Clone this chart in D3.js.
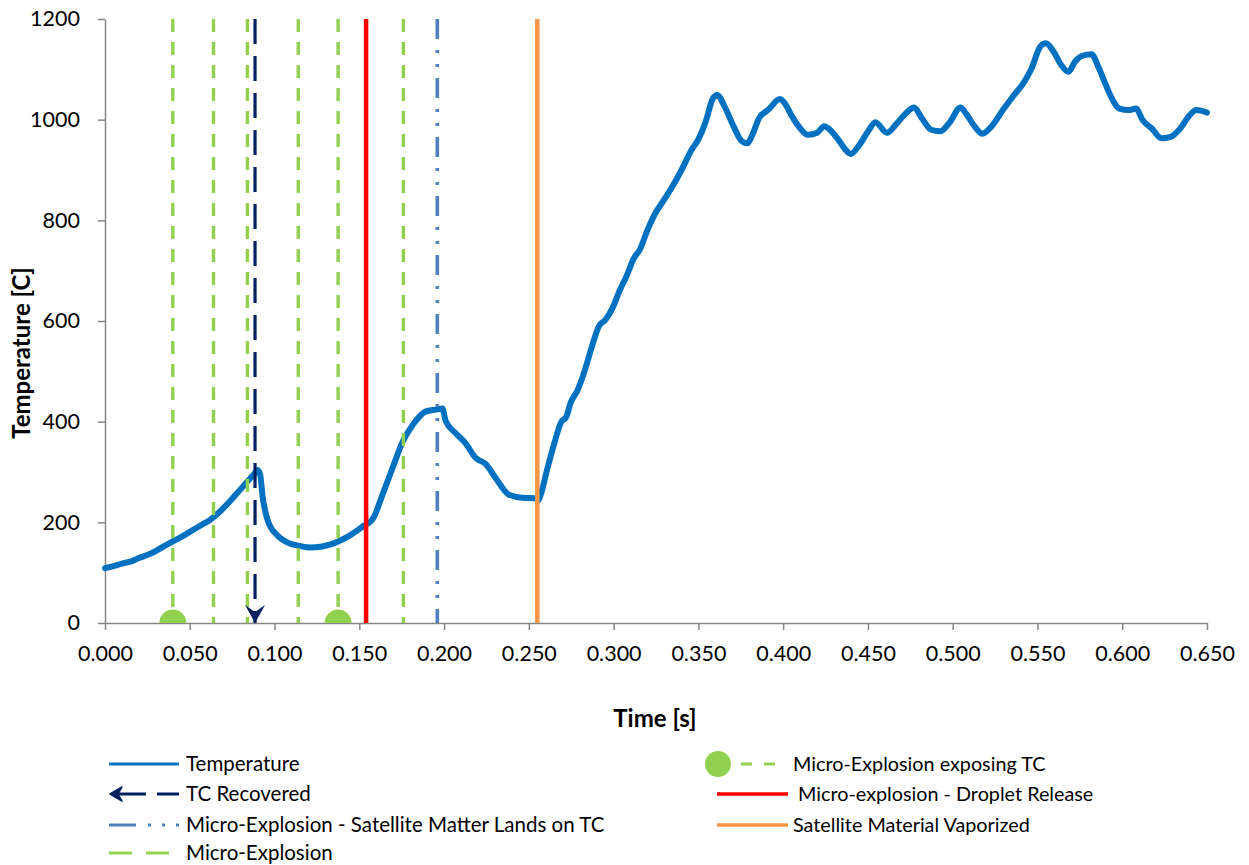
<!DOCTYPE html>
<html><head><meta charset="utf-8">
<script src="https://cdn.jsdelivr.net/npm/d3@7"></script>
<style>body{margin:0;background:#fff;} text{font-family:Lato,"Open Sans",sans-serif;fill:#000;}</style>
</head><body><svg id="c" width="1249" height="865"></svg>
<script>
// ---- data ----
const timeS = [0.000,0.005,0.010,0.015,0.020,0.027,0.033,0.040,0.045,0.050,0.056,0.062,0.068,0.074,0.079,0.084,0.088,0.090,0.0915,0.093,0.095,0.097,0.100,0.103,0.106,0.109,0.115,0.121,0.128,0.133,0.1375,0.143,0.148,0.1535,0.156,0.158,0.1637,0.1696,0.1757,0.1814,0.189,0.195,0.199,0.201,0.2069,0.2127,0.2186,0.2245,0.2304,0.2382,0.246,0.2539,0.2555,0.2569,0.261,0.2651,0.2692,0.272,0.2747,0.2788,0.2829,0.287,0.2912,0.2953,0.2994,0.3035,0.3076,0.3117,0.3158,0.320,0.3241,0.3296,0.335,0.3405,0.346,0.350,0.3542,0.3584,0.3611,0.3652,0.3707,0.3757,0.3789,0.3817,0.3858,0.3913,0.3981,0.4009,0.405,0.4091,0.4146,0.4201,0.4242,0.4269,0.4324,0.4366,0.4398,0.4448,0.4503,0.4544,0.4612,0.4667,0.4722,0.4772,0.4818,0.4873,0.4928,0.4983,0.5046,0.5079,0.512,0.5175,0.523,0.5298,0.5353,0.5422,0.5463,0.5518,0.555,0.5599,0.5641,0.5682,0.5723,0.5765,0.5819,0.586,0.5902,0.5929,0.5984,0.6039,0.608,0.6121,0.6176,0.6231,0.6286,0.6341,0.6396,0.6437,0.650];
const tempC = [109,113,118,122,129,138,149,162,171,181,193,205,222,243,262,281,296,304,295,250,215,195,180,170,163,158,153,150,152,156,162,171,182,195,200,207,255,308,361,393,420,424,426,401,377,357,328,316,288,255,249,248,243,254,308,358,400,409,438,463,501,547,589,603,626,660,689,723,744,781,811,840,869,903,940,961,995,1041,1049,1028,987,957,953,969,1003,1020,1041,1033,1008,987,970,974,987,982,961,941,932,949,978,995,974,991,1012,1024,1003,980,977,995,1024,1012,991,972,987,1020,1045,1075,1100,1146,1152,1133,1108,1095,1116,1127,1130,1104,1070,1049,1022,1019,1022,999,982,963,966,982,1008,1019,1014];
const microExplosionT = [0.064, 0.084, 0.114, 0.176];
const exposingTcT = [0.040, 0.1375];
const tcRecoveredT = [0.0885];
const dropletReleaseT = [0.154];
const satelliteLandsT = [0.196];
const vaporizedT = [0.255];
const xTicks = [0,0.05,0.1,0.15,0.2,0.25,0.3,0.35,0.4,0.45,0.5,0.55,0.6,0.65];
const yTicks = [0,200,400,600,800,1000,1200];
const legendLeft = ["Temperature","TC Recovered","Micro-Explosion - Satellite Matter Lands on TC","Micro-Explosion"];
const legendRight = ["Micro-Explosion exposing TC"," Micro-explosion - Droplet Release","Satellite Material Vaporized"];

// ---- chart ----
const svg = d3.select("#c");
const x = d3.scaleLinear().domain([0,0.65]).range([105,1207]);
const y = d3.scaleLinear().domain([0,1200]).range([623,19]);
const AX = "#868686";
const C = {temp:"#0070C0", green:"#92D050", navy:"#002060", blue:"#4F81BD", red:"#FF0000", orange:"#F79646"};

svg.append("defs").append("clipPath").attr("id","plot")
  .append("rect").attr("x",x(0)).attr("y",y(1200)-5).attr("width",x(0.65)-x(0)+5).attr("height",y(0)-y(1200)+5);

// axes
const gx = svg.append("g").attr("transform",`translate(0,${y(0)})`)
  .call(d3.axisBottom(x).tickValues(xTicks).tickFormat(d3.format(".3f")).tickSize(7).tickSizeOuter(0).tickPadding(16));
const gy = svg.append("g").attr("transform",`translate(${x(0)},0)`)
  .call(d3.axisLeft(y).tickValues(yTicks).tickFormat(d3.format("d")).tickSize(7).tickSizeOuter(0).tickPadding(18));
[gx,gy].forEach(g=>{
  g.select(".domain").attr("stroke",AX).attr("stroke-width",1.5);
  g.selectAll(".tick line").attr("stroke",AX).attr("stroke-width",1.5);
  g.selectAll(".tick text").style("font-family","Lato").style("font-size","21.5px").attr("fill","#000");
});

// temperature line
const line = d3.line().x((d,i)=>x(timeS[i])).y(d=>y(d)).curve(d3.curveMonotoneX);
svg.append("path").datum(tempC).attr("d",line).attr("fill","none")
  .attr("stroke",C.temp).attr("stroke-width",6).attr("stroke-linejoin","round").attr("stroke-linecap","round");

// vertical markers
const vg = svg.append("g").attr("clip-path","url(#plot)");
function vlines(ts, color, width, dash){
  vg.selectAll(null).data(ts).enter().append("line")
    .attr("x1",d=>x(d)).attr("x2",d=>x(d)).attr("y1",y(1200)).attr("y2",y(0))
    .attr("stroke",color).attr("stroke-width",width).attr("stroke-dasharray",dash||null);
}
vlines(microExplosionT, C.green, 3.4, "13,10");
vlines(exposingTcT, C.green, 3.4, "13,10");
vlines(tcRecoveredT, C.navy, 3.2, "25,12");
vlines(dropletReleaseT, C.red, 4.5);
vlines(satelliteLandsT, C.blue, 3.6, "20,11,3,11,3,11");
vlines(vaporizedT, C.orange, 4.5);
vg.selectAll(null).data(exposingTcT).enter().append("circle")
  .attr("cx",d=>x(d)).attr("cy",y(0)).attr("r",13.5).attr("fill",C.green);
// arrow head for TC recovered
tcRecoveredT.forEach(t=>{
  const xx=x(t), yy=y(0);
  svg.append("path").attr("d",`M${xx-10},${yy-18} L${xx},${yy} L${xx+10},${yy-18} L${xx},${yy-11} Z`).attr("fill",C.navy);
});

// axis titles
svg.append("text").attr("x",655).attr("y",727).attr("text-anchor","middle")
  .style("font-size","24px").style("font-weight","bold").text("Time [s]");
svg.append("text").attr("transform","translate(30,353) rotate(-90)").attr("text-anchor","middle")
  .style("font-size","24px").style("font-weight","bold").text("Temperature [C]");

// legend
const rowY = [764,794,825,853];
const lg = svg.append("g");
legendLeft.forEach((t,i)=>{
  lg.append("text").attr("x",186).attr("y",rowY[i]).attr("dy","0.33em").style("font-size","20.5px").text(t);
});
// samples left
lg.append("line").attr("x1",109).attr("x2",179).attr("y1",rowY[0]).attr("y2",rowY[0]).attr("stroke",C.temp).attr("stroke-width",3);
lg.append("line").attr("x1",116).attr("x2",146).attr("y1",rowY[1]).attr("y2",rowY[1]).attr("stroke",C.navy).attr("stroke-width",3);
lg.append("path").attr("d",`M${110},${rowY[1]} L${122},${rowY[1]-7} L${118},${rowY[1]} L${122},${rowY[1]+7} Z`).attr("fill",C.navy).attr("stroke",C.navy).attr("stroke-width",1.5).attr("stroke-linejoin","round");
lg.append("line").attr("x1",157).attr("x2",179).attr("y1",rowY[1]).attr("y2",rowY[1]).attr("stroke",C.navy).attr("stroke-width",3);
lg.append("line").attr("x1",109).attr("x2",179).attr("y1",rowY[2]).attr("y2",rowY[2]).attr("stroke",C.blue).attr("stroke-width",3).attr("stroke-dasharray","27,12,3,11,3,11,3");
lg.append("line").attr("x1",109).attr("x2",172).attr("y1",rowY[3]).attr("y2",rowY[3]).attr("stroke",C.green).attr("stroke-width",3).attr("stroke-dasharray","23,14");

legendRight.forEach((t,i)=>{
  lg.append("text").attr("x",793).attr("y",rowY[i]).attr("dy","0.33em").style("font-size","19.8px").style("white-space","pre").text(t);
});
lg.append("circle").attr("cx",718).attr("cy",rowY[0]).attr("r",13).attr("fill",C.green);
lg.append("line").attr("x1",741).attr("x2",777).attr("y1",rowY[0]).attr("y2",rowY[0]).attr("stroke",C.green).attr("stroke-width",3).attr("stroke-dasharray","11,12");
lg.append("line").attr("x1",717).attr("x2",788).attr("y1",rowY[1]).attr("y2",rowY[1]).attr("stroke",C.red).attr("stroke-width",3.5);
lg.append("line").attr("x1",717).attr("x2",788).attr("y1",rowY[2]).attr("y2",rowY[2]).attr("stroke",C.orange).attr("stroke-width",3.5);
</script></body></html>
